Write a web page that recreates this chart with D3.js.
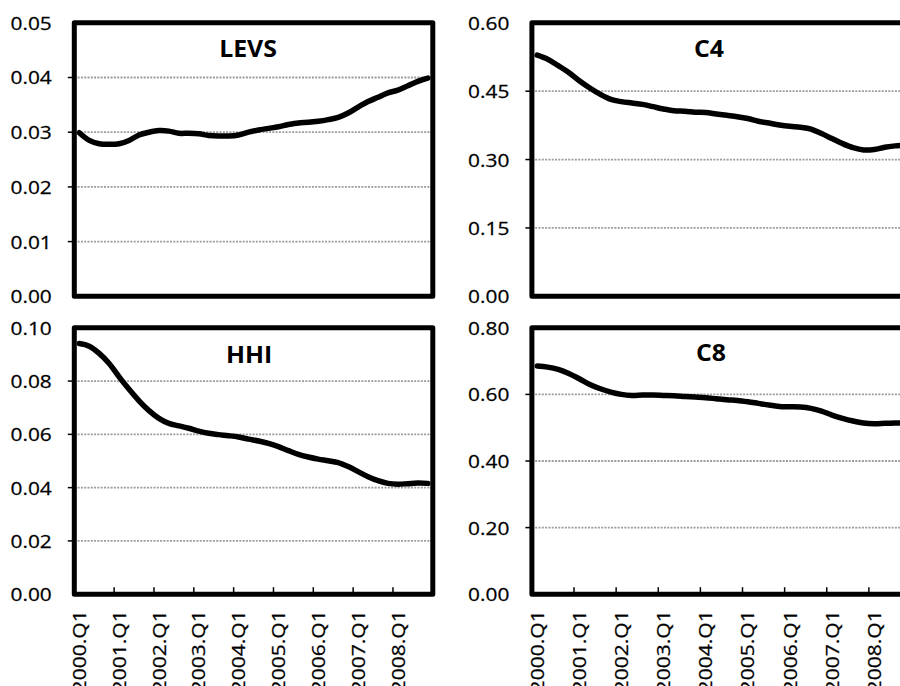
<!DOCTYPE html>
<html>
<head>
<meta charset="utf-8">
<script src="https://cdn.jsdelivr.net/npm/d3@7/dist/d3.min.js"></script>
<style>
  html, body { margin: 0; padding: 0; background: #fff; }
  svg { display: block; }
  text { font-family: "Open Sans", "Noto Sans", sans-serif; fill: #000; }
  .tick text { stroke: #000; stroke-width: 0.25px; }
</style>
</head>
<body>
<svg id="chart" width="900" height="686"></svg>
<script>
// Quarterly observations, 2000.Q1 - 2008.Q4
const quarters = [
  "2000.Q1","2000.Q2","2000.Q3","2000.Q4",
  "2001.Q1","2001.Q2","2001.Q3","2001.Q4",
  "2002.Q1","2002.Q2","2002.Q3","2002.Q4",
  "2003.Q1","2003.Q2","2003.Q3","2003.Q4",
  "2004.Q1","2004.Q2","2004.Q3","2004.Q4",
  "2005.Q1","2005.Q2","2005.Q3","2005.Q4",
  "2006.Q1","2006.Q2","2006.Q3","2006.Q4",
  "2007.Q1","2007.Q2","2007.Q3","2007.Q4",
  "2008.Q1","2008.Q2","2008.Q3","2008.Q4"
];

const levs = [
  0.0299, 0.0285, 0.0279, 0.0278, 0.0279, 0.0285, 0.0295, 0.0300, 0.0303,
  0.0302, 0.0298, 0.0298, 0.0297, 0.0294, 0.0293, 0.0293, 0.0295, 0.0300,
  0.0304, 0.0307, 0.0310, 0.0314, 0.0317, 0.0318, 0.0320, 0.0323, 0.0327,
  0.0335, 0.0346, 0.0356, 0.0364, 0.0372, 0.0377, 0.0385, 0.0393, 0.0399
];

const c4 = [
  0.529, 0.520, 0.506, 0.491, 0.473, 0.457, 0.443, 0.432, 0.427,
  0.424, 0.421, 0.416, 0.411, 0.407, 0.406, 0.404, 0.403, 0.400,
  0.397, 0.394, 0.390, 0.384, 0.380, 0.376, 0.373, 0.371, 0.367,
  0.357, 0.346, 0.335, 0.326, 0.321, 0.322, 0.327, 0.330, 0.332
];

const hhi = [
  0.0941, 0.0931, 0.0904, 0.0866, 0.0816, 0.0769, 0.0726, 0.0689, 0.0660,
  0.0641, 0.0632, 0.0623, 0.0612, 0.0604, 0.0599, 0.0595, 0.0590, 0.0582,
  0.0575, 0.0566, 0.0554, 0.0539, 0.0525, 0.0515, 0.0507, 0.0501, 0.0494,
  0.0479, 0.0460, 0.0441, 0.0426, 0.0416, 0.0413, 0.0415, 0.0417, 0.0416
];

const c8 = [
  0.685, 0.682, 0.675, 0.663, 0.647, 0.630, 0.617, 0.607, 0.600,
  0.597, 0.598, 0.598, 0.597, 0.596, 0.594, 0.592, 0.590, 0.587,
  0.584, 0.582, 0.578, 0.573, 0.568, 0.564, 0.563, 0.562, 0.558,
  0.550, 0.538, 0.528, 0.520, 0.514, 0.512, 0.513, 0.514, 0.515
];

const levsTicks = [0, 0.01, 0.02, 0.03, 0.04, 0.05];
const c4Ticks   = [0, 0.15, 0.30, 0.45, 0.60];
const hhiTicks  = [0, 0.02, 0.04, 0.06, 0.08, 0.10];
const c8Ticks   = [0, 0.20, 0.40, 0.60, 0.80];

// Panel geometry (plot-area edges, title anchor)
const panels = [
  { title: "LEVS", values: levs, ticks: levsTicks,
    left: 74.3, right: 432.8, top: 22.8, bottom: 296.3,
    titleX: 248, titleY: 57, dateAxis: false },
  { title: "C4", values: c4, ticks: c4Ticks,
    left: 531.9, right: 911, top: 22.8, bottom: 296.3,
    titleX: 709, titleY: 57, dateAxis: false },
  { title: "HHI", values: hhi, ticks: hhiTicks,
    left: 74.3, right: 432.8, top: 327.8, bottom: 594.2,
    titleX: 249, titleY: 363, dateAxis: true },
  { title: "C8", values: c8, ticks: c8Ticks,
    left: 531.9, right: 911, top: 327.8, bottom: 594.2,
    titleX: 711, titleY: 361, dateAxis: true }
];

const svg = d3.select("#chart");
const fmt = d3.format(".2f");
const q1Labels = quarters.filter(q => q.endsWith("Q1"));

panels.forEach(p => {
  const g = svg.append("g");

  const x = d3.scaleBand().domain(quarters).range([p.left, p.right]).padding(0);
  const y = d3.scaleLinear()
    .domain([0, p.ticks[p.ticks.length - 1]])
    .range([p.bottom, p.top]);
  const xc = q => x(q) + x.bandwidth() / 2;
  const inner = p.ticks.slice(1, -1);

  // dotted horizontal gridlines
  g.append("g").selectAll("line").data(inner).join("line")
    .attr("x1", p.left).attr("x2", p.right)
    .attr("y1", d => y(d)).attr("y2", d => y(d))
    .attr("stroke", "#9c9c9c")
    .attr("stroke-width", 1.8)
    .attr("stroke-dasharray", "2,1.3");

  // series line
  const line = d3.line()
    .x((d, i) => xc(quarters[i]))
    .y(d => y(d))
    .curve(d3.curveCatmullRom.alpha(0));
  g.append("path")
    .datum(p.values)
    .attr("d", line)
    .attr("fill", "none")
    .attr("stroke", "#000")
    .attr("stroke-width", 5.5)
    .attr("stroke-linecap", "round")
    .attr("stroke-linejoin", "round");

  // heavy frame around the plot area
  g.append("rect")
    .attr("x", p.left).attr("y", p.top)
    .attr("width", p.right - p.left).attr("height", p.bottom - p.top)
    .attr("fill", "none")
    .attr("stroke", "#000")
    .attr("stroke-width", 5)
    .attr("stroke-linejoin", "round");

  // value axis: labels plus small outward ticks on interior values
  const yAxis = g.append("g")
    .attr("transform", `translate(${p.left},0)`)
    .call(d3.axisLeft(y).tickValues(p.ticks).tickFormat(fmt).tickSize(0).tickPadding(0));
  yAxis.select(".domain").remove();
  yAxis.selectAll(".tick text")
    .attr("x", 0)
    .attr("dy", "0.36em")
    .attr("transform", "translate(-22.5,0) scale(1.16,1)")
    .style("font-size", "18px");
  g.append("g").selectAll("line").data(inner).join("line")
    .attr("x1", p.left - 6.5).attr("x2", p.left)
    .attr("y1", d => y(d)).attr("y2", d => y(d))
    .attr("stroke", "#000").attr("stroke-width", 1.5);

  // title
  g.append("text")
    .attr("text-anchor", "middle")
    .attr("transform", `translate(${p.titleX},${p.titleY}) scale(1.08,1)`)
    .style("font-size", "23px")
    .style("font-weight", "700")
    .text(p.title);

  if (p.dateAxis) {
    // inward ticks at each year boundary
    const yearStarts = q1Labels.slice(1);
    g.append("g").selectAll("line").data(yearStarts).join("line")
      .attr("x1", d => x(d)).attr("x2", d => x(d))
      .attr("y1", p.bottom).attr("y2", p.bottom - 7)
      .attr("stroke", "#000").attr("stroke-width", 1.5);

    // rotated year labels
    const xAxis = g.append("g")
      .attr("transform", `translate(0,${p.bottom})`)
      .call(d3.axisBottom(x).tickValues(q1Labels).tickSize(0).tickPadding(0));
    xAxis.select(".domain").remove();
    xAxis.selectAll(".tick text")
      .attr("x", 0).attr("y", 0)
      .attr("dy", "0.36em")
      .attr("text-anchor", "end")
      .attr("transform", "translate(0,16) rotate(-90) scale(1.14,1)")
      .style("font-size", "18.5px");
  }
});
</script>
</body>
</html>
